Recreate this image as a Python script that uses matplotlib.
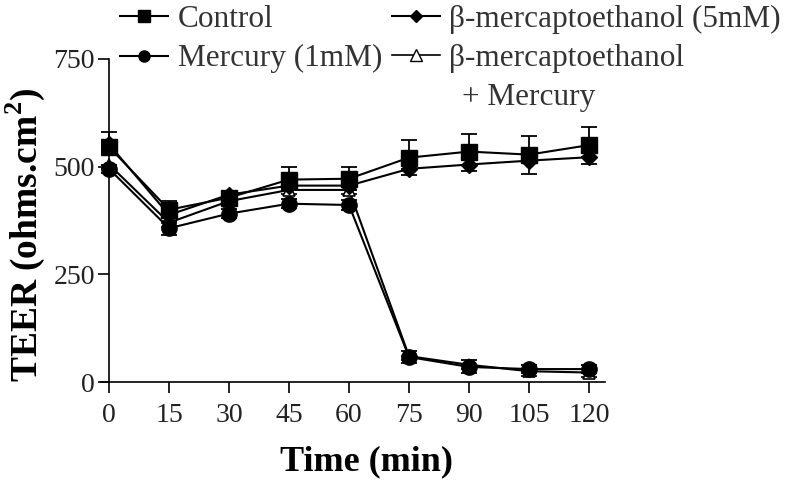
import matplotlib
matplotlib.use("Agg")
import matplotlib.pyplot as plt
import numpy as np
from matplotlib.lines import Line2D

time = [0, 15, 30, 45, 60, 75, 90, 105, 120]
control = [546, 400, 428, 470, 472, 521, 535, 528, 550]
control_err = [35, 20, 15, 30, 28, 40, 42, 44, 42]
mercury = [495, 357, 391, 414, 411, 58, 35, 30, 30]
mercury_err = [10, 15, 10, 10, 12, 15, 15, 10, 10]
bme = [552, 388, 435, 456, 456, 495, 505, 514, 522]
bme_err = [12, 15, 10, 10, 10, 15, 15, 30, 15]
bme_hg = [505, 370, 420, 446, 446, 60, 40, 25, 22]
bme_hg_err = [10, 10, 10, 10, 10, 10, 10, 10, 10]

labels = ["Control", "Mercury (1mM)", "β-mercaptoethanol (5mM)", "β-mercaptoethanol"]
xticks = [0, 15, 30, 45, 60, 75, 90, 105, 120]
yticks = [0, 250, 500, 750]

plt.rcParams['font.family'] = ['Liberation Serif', 'DejaVu Serif']

fig = plt.figure(figsize=(8, 4.88), dpi=100)
ax = fig.add_axes([101/800, 1-382/488, (605-101)/800, (382-59)/488])

lw = 1.5
ms = 11
common = dict(color='black', lw=lw, ecolor='black', elinewidth=1.3, capsize=6, capthick=1.3)

ax.errorbar(time, bme_hg, yerr=[bme_hg_err, [0]*9], marker='^', ms=9, mfc='white', mec='black', mew=1.2, **common)
ax.errorbar(time, mercury, yerr=mercury_err, marker='o', ms=ms, mfc='black', mec='black', **common)
ax.errorbar(time, bme, yerr=[bme_err, [0]*9], marker='D', ms=8, mfc='black', mec='black', **common)
ax.errorbar(time, control, yerr=[[0]*9, control_err], marker='s', ms=ms, mfc='black', mec='black', **common)

ax.set_xlim(-2, 124)
ax.set_ylim(0, 750)
ax.spines['left'].set_position(('data', 0))
ax.spines['top'].set_visible(False)
ax.spines['right'].set_visible(False)
ax.spines['left'].set_linewidth(1.2)
ax.spines['bottom'].set_linewidth(1.2)
ax.set_xticks(xticks)
ax.set_yticks(yticks)
ax.tick_params(axis='both', direction='out', length=8, width=1.2, labelsize=20, colors='black')
ax.tick_params(axis='y', pad=2)
ax.tick_params(axis='x', pad=7)
for t in ax.get_xticklabels() + ax.get_yticklabels():
    t.set_color('#222222')

ax.set_xlabel("Time (min)", fontsize=26, fontweight='bold')
ax.xaxis.set_label_coords((366-101)/504, -(462-382)/323, transform=ax.transAxes)
ax.xaxis.label.set_va('center')
fig.text(25/800, 1-235/488, "TEER (ohms.cm$^\\mathregular{2}$)", rotation=90, fontsize=27,
         fontweight='bold', ha='center', va='center')

h = [Line2D([], [], color='black', lw=1.5, marker='s', ms=8, mfc='black'),
     Line2D([], [], color='black', lw=1.5, marker='o', ms=8, mfc='black'),
     Line2D([], [], color='black', lw=1.5, marker='D', ms=6, mfc='black'),
     Line2D([], [], color='black', lw=1.2, marker='^', ms=8, mfc='white', mec='black')]
leg = fig.legend(h, labels, loc='upper left', bbox_to_anchor=(120/800, 1-5/488), ncol=2,
                 frameon=False, fontsize=22.5, handlelength=1.55, handletextpad=0.3,
                 columnspacing=0.3, labelspacing=0.33, borderpad=0, borderaxespad=0)
for t in leg.get_texts():
    t.set_color('#333333')
fig.text(462/800, 1-97/488, "+ Mercury", fontsize=22.5, color='#333333', ha='left', va='center')

fig.savefig("out.png", dpi=100)
